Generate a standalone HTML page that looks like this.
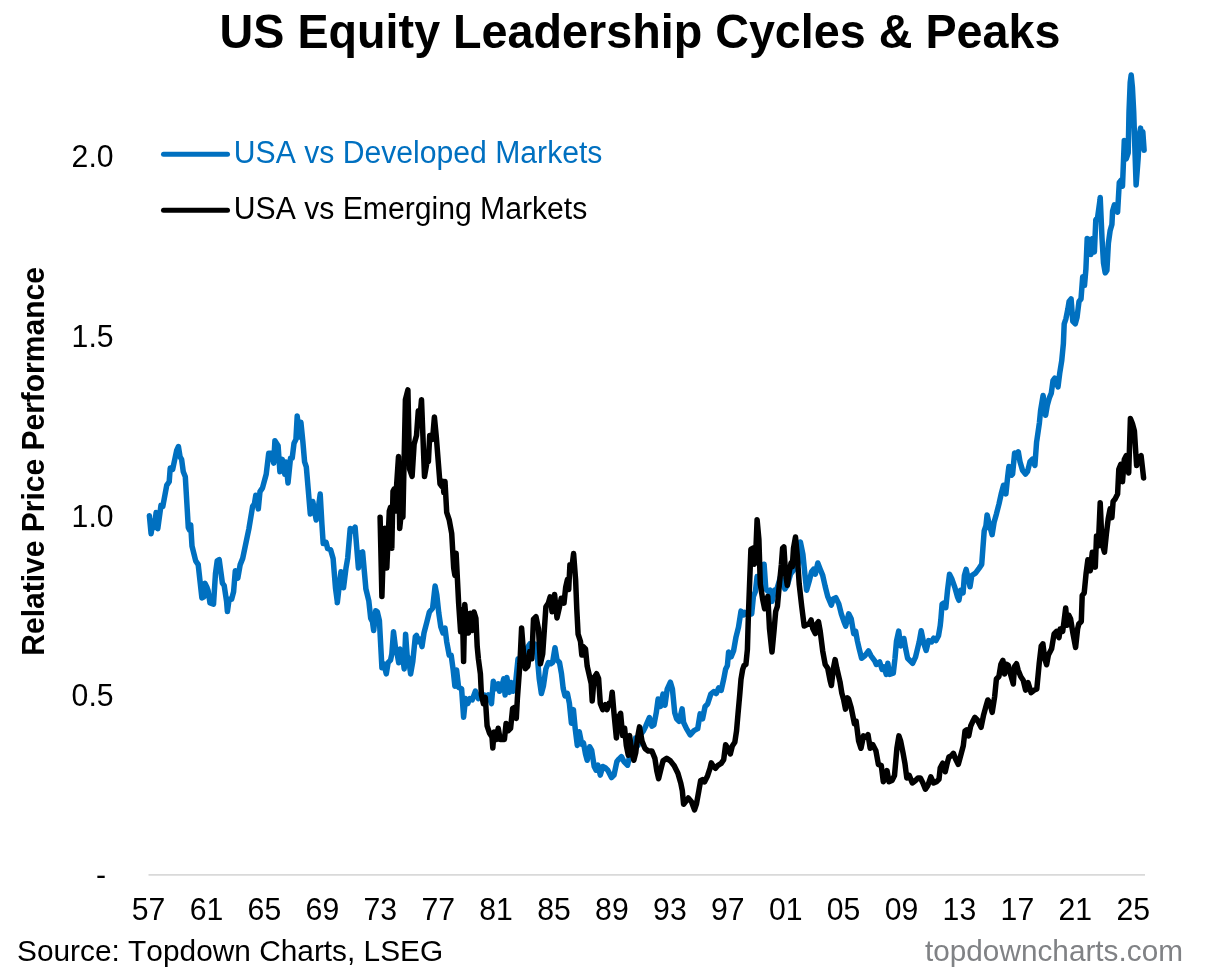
<!DOCTYPE html>
<html><head><meta charset="utf-8"><title>US Equity Leadership Cycles &amp; Peaks</title>
<style>
html,body{margin:0;padding:0;background:#fff;}
body{width:1205px;height:970px;overflow:hidden;font-family:"Liberation Sans",Arial,sans-serif;}
svg{display:block;}
svg text{font-family:"Liberation Sans",Arial,sans-serif;font-kerning:none;}
</style></head><body>
<svg width="1205" height="970" viewBox="0 0 1205 970">
<rect width="1205" height="970" fill="#fff"/>
<text transform="translate(640,47.8) scale(1,1.015)" font-size="46.7" text-anchor="middle" font-weight="bold" fill="#000">US Equity Leadership Cycles &amp; Peaks</text>
<line x1="148.5" y1="874.9" x2="1145" y2="874.9" stroke="#d9d9d9" stroke-width="1.6"/>
<text transform="translate(113.6,167.2) scale(1,1.038)" font-size="30.2" text-anchor="end" fill="#000">2.0</text>
<text transform="translate(113.6,346.9) scale(1,1.038)" font-size="30.2" text-anchor="end" fill="#000">1.5</text>
<text transform="translate(113.6,526.7) scale(1,1.038)" font-size="30.2" text-anchor="end" fill="#000">1.0</text>
<text transform="translate(113.6,706.4) scale(1,1.038)" font-size="30.2" text-anchor="end" fill="#000">0.5</text>
<text transform="translate(96,884.5)" font-size="30.2" fill="#000">-</text>
<text transform="translate(148.6,919.6) scale(1,1.038)" font-size="30.2" text-anchor="middle" fill="#000">57</text>
<text transform="translate(206.5,919.6) scale(1,1.038)" font-size="30.2" text-anchor="middle" fill="#000">61</text>
<text transform="translate(264.4,919.6) scale(1,1.038)" font-size="30.2" text-anchor="middle" fill="#000">65</text>
<text transform="translate(322.4,919.6) scale(1,1.038)" font-size="30.2" text-anchor="middle" fill="#000">69</text>
<text transform="translate(380.3,919.6) scale(1,1.038)" font-size="30.2" text-anchor="middle" fill="#000">73</text>
<text transform="translate(438.2,919.6) scale(1,1.038)" font-size="30.2" text-anchor="middle" fill="#000">77</text>
<text transform="translate(496.1,919.6) scale(1,1.038)" font-size="30.2" text-anchor="middle" fill="#000">81</text>
<text transform="translate(554,919.6) scale(1,1.038)" font-size="30.2" text-anchor="middle" fill="#000">85</text>
<text transform="translate(611.9,919.6) scale(1,1.038)" font-size="30.2" text-anchor="middle" fill="#000">89</text>
<text transform="translate(669.9,919.6) scale(1,1.038)" font-size="30.2" text-anchor="middle" fill="#000">93</text>
<text transform="translate(727.8,919.6) scale(1,1.038)" font-size="30.2" text-anchor="middle" fill="#000">97</text>
<text transform="translate(785.7,919.6) scale(1,1.038)" font-size="30.2" text-anchor="middle" fill="#000">01</text>
<text transform="translate(843.6,919.6) scale(1,1.038)" font-size="30.2" text-anchor="middle" fill="#000">05</text>
<text transform="translate(901.5,919.6) scale(1,1.038)" font-size="30.2" text-anchor="middle" fill="#000">09</text>
<text transform="translate(959.4,919.6) scale(1,1.038)" font-size="30.2" text-anchor="middle" fill="#000">13</text>
<text transform="translate(1017.4,919.6) scale(1,1.038)" font-size="30.2" text-anchor="middle" fill="#000">17</text>
<text transform="translate(1075.3,919.6) scale(1,1.038)" font-size="30.2" text-anchor="middle" fill="#000">21</text>
<text transform="translate(1133.2,919.6) scale(1,1.038)" font-size="30.2" text-anchor="middle" fill="#000">25</text>
<text transform="translate(44.4,461.4) rotate(-90) scale(1,1.015)" font-size="30.0" text-anchor="middle" font-weight="bold" fill="#000">Relative Price Performance</text>
<line x1="163.5" y1="154.3" x2="227.5" y2="154.3" stroke="#0070c0" stroke-width="5" stroke-linecap="round"/>
<text transform="translate(233.8,162.7) scale(1,1.015)" font-size="30.17" fill="#0070c0">USA vs Developed Markets</text>
<line x1="163.5" y1="210.3" x2="227.5" y2="210.3" stroke="#000" stroke-width="5" stroke-linecap="round"/>
<text transform="translate(233.8,218.7) scale(1,1.015)" font-size="30.17" fill="#000">USA vs Emerging Markets</text>
<path d="M149.4,515.8 L151.1,533.7 L152.9,521.3 L154.4,527.5 L156.1,512.6 L157.8,528.7 L161,505.2 L162.8,506.4 L166.7,485.4 L169.2,481.7 L170.2,468.1 L172.7,469.3 L176.6,450.7 L178.4,446.5 L180.1,456.9 L181.6,459.4 L183.3,471.8 L185.3,476.7 L188.3,527.5 L189.5,530 L190.7,525 L192,546 L195.7,560.9 L198.2,564.6 L201.9,598 L203.9,596.8 L204.9,583.2 L206.8,586.9 L208.1,590.6 L210,603 L213.5,604.2 L215.5,573.3 L217.2,560.9 L219.2,559.7 L222.4,583.2 L224.2,585.6 L226.6,601.7 L227.4,611.6 L229.1,599.3 L231.6,599.3 L233.6,591.8 L235.3,570.8 L237.8,578.2 L240.2,564.6 L242.7,558.4 L248.9,528.7 L252.6,506.4 L254.4,504 L255.8,495.3 L258.3,508.9 L260,491.6 L262.5,487.9 L266.2,474.3 L268.7,453.2 L271.2,453.2 L273.7,463.1 L274.9,440.8 L278.1,445.8 L279.9,471.8 L282.3,459.4 L284.8,474.3 L286,461.9 L288,482.9 L290.5,458.2 L292.2,458.2 L294,443.3 L295.9,439.6 L297.2,416.1 L299.7,437.1 L300.9,422.3 L302.9,442.1 L304.6,461.9 L306.3,466.8 L310.3,513.9 L312.8,501.5 L316.2,520 L318.2,508.9 L320.2,494.1 L321.9,523.8 L323.2,543.6 L326.1,542.3 L327.6,548.5 L330.6,549.8 L333.1,558.4 L335.5,588.1 L337.3,601.7 L337.3,602.7 L339.3,585.3 L341,571.7 L343.5,587.8 L346,568 L347.7,558.1 L350.2,528.4 L352.2,530.9 L355.1,527.2 L358.4,568 L360.1,553.2 L362.6,551.9 L365.8,587.8 L365.8,588.5 L368.8,600.8 L370.7,618.2 L372.5,621.9 L373.7,630.5 L375.7,610.7 L377.4,612 L379.4,620.6 L381.9,667.7 L383.9,664 L386.3,673.9 L388.1,662.7 L390.5,660.2 L391.8,654.1 L393.5,631.8 L395.5,647.9 L397.2,654.1 L398.7,662.7 L400,649.1 L402.2,652.8 L404.2,668.9 L405.6,634.3 L407.1,655.3 L408.6,659 L410.6,673.9 L412.8,661.5 L415.3,636.7 L416.5,635.5 L418.3,641.7 L420.2,639.2 L422,646.6 L424,633 L426.9,621.9 L429.4,612 L432.6,608.3 L435.1,586 L436.8,594.7 L438.8,613.2 L440.8,626.8 L443,633 L445,628.1 L446.7,641.7 L449.2,655.3 L451.2,655.3 L453.2,670.1 L454.9,686.2 L456.6,670.1 L458.6,687.5 L461.6,688.7 L463.6,717.2 L465.5,698.6 L467.8,703.6 L469.8,698.6 L472.2,699.9 L475.4,691.2 L478.4,698.6 L482.1,694.9 L484.6,694.9 L486.3,698.6 L488.3,694.9 L491.5,703.6 L493.3,681.3 L495.7,688.7 L498.2,683.8 L499.5,691.2 L501.9,686.2 L503.7,678.8 L505.1,694.9 L506.9,677.6 L509.4,692.4 L511.1,682.5 L513.1,691.2 L515.5,683.8 L518,659 L519.9,663.8 L522.4,650.1 L524.9,657.6 L527.3,647.7 L529.8,644 L532.3,648.9 L534.8,644 L537.2,655.1 L539.2,678.6 L541.4,693.5 L543.4,686 L545.9,668.7 L548.4,662.5 L550.8,663.8 L552.6,662.5 L555,647.7 L557,660 L559.5,662.5 L561.5,673.7 L563.2,688.5 L565,695.9 L567.4,693.5 L569.4,703.4 L571.4,723.2 L573.4,709.6 L575.3,729.4 L577.3,745.4 L579.3,731.8 L581.8,744.2 L583.5,743 L585.5,754.1 L587.2,760.3 L589.7,746.7 L591.7,750.4 L594.2,766.5 L596.1,770.2 L597.9,765.2 L600.3,775.1 L602.8,766.5 L605.3,767.7 L607.8,770.2 L611.5,777.6 L614,775.1 L616.9,761.5 L618.9,759.1 L621.4,756.6 L623.9,761.5 L627.6,765.2 L629.3,757.8 L631.8,750.4 L633.8,752.9 L635.5,738 L638,745.4 L640,735.5 L643.2,731.2 L645.7,726.2 L649.4,717.6 L651.9,726.2 L653.9,725 L656.3,712.6 L658.1,699 L660.5,706.4 L663,694.1 L665,705.2 L667.2,689.1 L670.4,682.2 L672.4,689.1 L674.7,712.6 L676.6,718.8 L679.1,721.3 L682.1,708.9 L683.6,722.5 L686.5,728.7 L690.2,734.9 L694,730.7 L697.7,728.7 L700.1,713.9 L702.6,718.8 L705.1,706.4 L707.6,704 L710.8,694.1 L713.8,691.6 L716.2,693.6 L718.7,687.9 L721.2,690.3 L723.7,679.2 L725.6,669.3 L727.4,665.6 L728.6,652 L731.1,656.9 L733.6,650.7 L736,637.1 L738.5,627.2 L741,611.1 L743.5,614.9 L744.8,612.5 L748,615 L751.7,613.8 L753.4,596.4 L755.4,591.5 L757.1,576.6 L759.6,581.6 L762.1,576.6 L764.1,564.3 L765.8,589 L768.3,591.5 L770,590.2 L772,601.4 L774.5,590.2 L776.9,589 L780.6,576.6 L784.9,589 L787.3,585.3 L790.5,574.2 L794.3,569.2 L798,564.3 L800.4,542 L802.9,554.4 L804.9,574.2 L806.6,590.2 L809.1,581.6 L811.6,571.7 L813.6,569.2 L815.3,574.2 L817.8,563 L820.2,569.2 L822.7,575.4 L825.2,586.5 L827.7,596.4 L831.4,605.1 L833.1,598.9 L835.8,597.7 L838.8,603.9 L841.3,613.8 L843.8,621.2 L845.7,626.1 L848.7,613.8 L851.2,618.7 L853.7,633.6 L855.6,631.1 L857.4,641 L859.1,648.4 L861.6,658.3 L864.8,655.8 L868.5,650.9 L871,655.8 L874.7,660.8 L876.4,664.5 L879.7,662 L882.1,669.5 L884.1,667 L886.3,674.4 L887.8,663.3 L889.6,674.4 L893.3,673.2 L895,658.3 L896.5,641 L898.7,631.1 L900.7,645.9 L902.4,643.5 L903.9,638.5 L905.6,648.4 L907.6,658.3 L910.1,660.8 L912.6,663.3 L915.5,657.1 L919.2,641.9 L921.2,630.7 L923.7,643.1 L926.1,650.5 L928.6,640.6 L931.6,641.9 L933.6,638.2 L936,640.6 L938.5,635.7 L940.2,625.8 L940.8,620.1 L942.1,604 L944.1,602.8 L945.8,607.7 L947.5,590.4 L949.5,574.3 L952,579.3 L955,587.9 L957.4,596.6 L958.9,600.3 L960.6,590.4 L963.1,592.9 L964.4,575.5 L966.1,569.4 L968.1,578 L970,586.7 L971.8,575.5 L975.5,573.1 L979.2,568.1 L981.7,564.4 L982.9,548.3 L984.2,531 L985.9,526 L987.1,514.9 L989.1,523.6 L992.1,534.7 L994.1,522.3 L996.5,513.7 L999,503.8 L1001.5,492.6 L1003.5,485.2 L1005.9,493.9 L1007.7,476.5 L1008.9,466.6 L1011.4,475.3 L1012.6,474.1 L1014.6,453 L1016.3,454.3 L1018.3,451.8 L1020,461.7 L1022.5,470.3 L1025.5,474.1 L1027.5,471.6 L1030,461.7 L1032.4,459.2 L1034.9,465.4 L1036.6,441.9 L1036.9,440.1 L1039.4,422.8 L1040.6,410.4 L1043.1,395.5 L1045.6,415.3 L1047.3,405.4 L1049.3,398 L1051.3,393.1 L1053,380.7 L1054.8,378.2 L1058,386.9 L1059.7,373.3 L1061.7,360.9 L1063.4,343.6 L1064.2,323.8 L1065.9,318.8 L1067.9,308.9 L1069.1,301.5 L1071.1,299 L1072.8,321.3 L1075.3,323.8 L1077,317.6 L1079,301.5 L1081,299 L1082.7,276.7 L1084.5,285.4 L1085.9,269.3 L1087.2,238.4 L1088.9,239.6 L1090.9,254.5 L1092.6,238.4 L1094.4,252 L1095.8,219.8 L1097.6,217.3 L1100,200 L1100.2,197.4 L1102,238.2 L1103.5,263 L1105.2,272.9 L1106.9,270.4 L1108.4,243.2 L1110.1,230.8 L1111.9,224.6 L1112.6,211 L1114.4,204.8 L1116.3,208.5 L1117.6,212.2 L1119.3,182.5 L1121.3,180 L1122.5,186.2 L1124.3,140.4 L1126.2,159 L1128.2,152.8 L1129,112 L1130.2,82.3 L1131.2,74.9 L1132.4,87.2 L1133.7,112 L1134.9,149.1 L1136.1,185 L1138.1,159 L1139.4,134.3 L1140.6,128.1 L1141.6,145.4 L1142.8,131.8 L1144.1,150.3" fill="none" stroke="#0070c0" stroke-width="5.5" stroke-linejoin="round" stroke-linecap="round"/>
<path d="M380.1,517.3 L381.9,596.5 L383.9,530.9 L384.9,528.4 L386.8,568 L389.3,511.1 L390.5,507.4 L391.8,548.2 L393,491.3 L394.3,488.8 L395.5,511.1 L396.7,483.9 L398.5,456.6 L399.7,528.4 L401.7,508.6 L402.9,517.3 L405.4,399.7 L407.9,389.8 L409.6,469 L412.1,476.4 L414.1,444.3 L416.5,435.6 L418.3,410.8 L419.8,419.5 L421.5,399.7 L424.5,476.4 L426.9,462.8 L428.4,461.6 L429.7,435.6 L432.6,439.3 L434.4,417 L436.3,436.8 L440,483.9 L441.8,486.3 L443,481.4 L443.8,492.5 L445,481.4 L446.7,512.3 L449.2,519.8 L451.7,533.4 L453.7,568 L454.9,575.4 L456.1,553.2 L458.6,602.7 L460.6,631.8 L462.3,609.5 L463.6,661.5 L464.8,604.6 L466.5,624.4 L468.5,633 L470.2,613.2 L472.2,630.5 L474,612 L475.9,618.2 L477.2,646.6 L478.4,659 L480.4,673.9 L481.4,694.9 L483.4,703.6 L485.3,697.4 L487.1,725.8 L489.6,733.3 L492,737 L492.8,748.1 L494,732 L496.2,739.5 L498.2,728.3 L500.2,739.5 L504.4,739.5 L506.1,723.4 L508.1,730.8 L510.6,728.3 L512.6,708.5 L515,707.3 L516.3,718.4 L517.4,698.4 L519.9,663.8 L521.6,627.9 L523.6,653.9 L525.3,668.7 L527.8,666.2 L529.8,651.4 L531.8,658.8 L533.5,619.2 L536,616.7 L538.5,629.1 L540.4,663.8 L542.7,653.9 L545.9,606.8 L548.4,603.1 L550.1,596.9 L552.1,611.8 L554.6,594.5 L557,618 L559.5,606.8 L561.2,598.2 L564,603.1 L565.7,587 L567.4,579.6 L568.7,589.5 L569.9,564.8 L571.9,567.2 L573.6,553.6 L575.6,579.6 L576.8,609.3 L578.1,634.1 L580.5,641.5 L581.8,655.1 L583,646.4 L585.5,648.9 L587.2,666.2 L589.2,674.9 L591.2,683.6 L592.2,700.9 L594.2,677.4 L596.6,673.7 L598.6,678.6 L600.3,703.4 L602.8,709.6 L605.3,704.6 L607,709.6 L609,703.4 L610.7,704.6 L612.2,692.2 L614,713.3 L616.4,738 L618.2,718.2 L620.6,713.3 L622.6,735.5 L624.6,728.1 L626.3,745.4 L628.3,755.3 L629.6,735.5 L631.3,747.9 L633.8,760.3 L635.7,752.9 L637.5,738 L639.5,726.9 L642,741.1 L645,748.5 L648.2,751 L651.9,751 L654.9,758.4 L656.8,770.8 L658.6,778.7 L660.5,770.8 L663,760.9 L666.7,758.4 L670.4,760.9 L674.2,765.8 L677.9,773.3 L680.8,783.2 L682.3,790.6 L683.6,804.2 L686.5,800.5 L688.3,798 L691.5,801.7 L694.5,809.9 L696.4,804.2 L698.9,790.6 L700.6,780.7 L702.6,779.5 L704.6,781.9 L707.6,775.7 L710,768.3 L711.3,762.9 L713,765.8 L715.5,768.3 L718,765.3 L721.2,763.4 L723.7,759.7 L725.6,744.8 L727.9,748.5 L730.3,754 L732.3,746 L734.8,742.3 L736.5,731.2 L738,713.9 L739.8,694.1 L741,679.2 L742.7,669.3 L744,665.6 L745.9,664.4 L747.4,649.5 L748.4,614.9 L750.9,549.4 L752.7,548.2 L754.2,564.3 L755.4,561.8 L757.1,519.7 L758.9,539.5 L760.3,584.1 L762.6,598.9 L764.6,608.8 L766.3,606.3 L767.8,596.4 L769.5,628.6 L772,652.1 L774,631.1 L775.7,611.3 L777.4,606.3 L779.4,584.1 L781.4,564.3 L782.6,548.2 L783.9,546.9 L785.6,574.2 L787.3,585.3 L789.3,571.7 L791,563 L792.3,566.7 L793.5,548.2 L795.5,537 L797.2,554.4 L799.2,584.1 L801.7,606.3 L804.2,626.1 L806.6,624.9 L809.1,623.7 L811.1,620 L812.8,628.6 L815.3,633.6 L817,623.7 L818.5,621.7 L820.2,631.1 L822.7,650.9 L825.2,664.5 L827.7,668.2 L830.1,680.6 L831.4,685.5 L833.4,668.2 L835.1,659.6 L836.8,668.2 L840,681.8 L841.8,693 L843.8,700.4 L845.5,709.1 L847.5,697.9 L848.7,699.2 L851.2,707.8 L854.4,723.6 L856.1,721.1 L858.6,740.9 L861,748.3 L863.5,735.9 L866,737.2 L868,734.7 L870.2,748.3 L872.7,744.6 L875.9,750.8 L878.4,764.4 L881.3,765.6 L883.3,781.7 L885.3,778 L887,770.6 L889,781.7 L892,780.5 L894.5,775.5 L896.9,748.3 L898.9,735.9 L900.6,740.9 L903.1,753.3 L904.9,763.2 L906.8,778 L909.3,775.5 L912.3,783 L915.5,780.5 L918,778 L920.4,778 L922.9,783 L925.4,789.2 L927.9,785.4 L930.8,776.8 L933.6,783 L936.5,781.7 L939,779.3 L940.2,768.1 L942.7,763.2 L945.2,771.8 L947.2,763.2 L948.9,757 L951.4,755.7 L953.4,753.3 L955.8,759.5 L958.3,764.4 L961.3,753.3 L963.3,745.8 L965,731 L966.7,729.8 L968.7,735.9 L970.7,726 L972.9,721.1 L974.9,717.4 L977.4,719.9 L981.1,727.3 L983.6,714.9 L986,706.2 L987.8,700 L989.8,702.5 L992.2,712.4 L994.7,696.3 L996.4,679 L998.9,676.5 L1000.9,664.2 L1002.9,660.4 L1004.6,674.1 L1006.3,664.2 L1008.3,665.4 L1010.8,675.3 L1013.3,684 L1014.5,666.6 L1016.5,663.7 L1018.2,670.3 L1020.7,676.5 L1023.2,680.2 L1025.6,690.1 L1028.1,682.7 L1031.1,692.6 L1034.3,690.1 L1036.8,688.9 L1039.2,663.6 L1041.2,646.2 L1042.9,643.8 L1044.7,658.6 L1046.6,664.8 L1048.4,654.9 L1051.6,648.7 L1054.1,633.9 L1056.5,631.4 L1059,637.6 L1060.2,628.9 L1062.7,631.4 L1064,621.5 L1065.7,607.9 L1067.2,625.2 L1068.9,615.3 L1070.6,619 L1072.6,631.4 L1075.6,647.5 L1077.6,628.9 L1078.8,624 L1081.3,621.5 L1082.2,595.5 L1084.2,593.1 L1086.1,573.3 L1087.9,559.7 L1090.3,570.8 L1092.3,552.2 L1095.3,567.1 L1096.5,536.1 L1098.3,546 L1100.2,502.7 L1102,543.6 L1104.5,552.2 L1106.4,533.7 L1108.2,518.8 L1110.1,508.9 L1111.9,517.6 L1113.1,501.5 L1115.1,499 L1117.6,494.1 L1118.8,469.3 L1120.8,464.4 L1122.5,481.7 L1124.3,459.4 L1126.2,455.7 L1128.7,473 L1130.4,418.6 L1132.4,423.5 L1134.4,430.9 L1136.6,465.6 L1138.6,458.2 L1141.1,455.7 L1143.6,478" fill="none" stroke="#000" stroke-width="5.5" stroke-linejoin="round" stroke-linecap="round"/>
<text transform="translate(17,960.5) scale(1,1.015)" font-size="29.85" fill="#000">Source: Topdown Charts, LSEG</text>
<text transform="translate(1183,961) scale(1,1.015)" font-size="29.77" text-anchor="end" fill="#808285">topdowncharts.com</text>
</svg>
</body></html>
